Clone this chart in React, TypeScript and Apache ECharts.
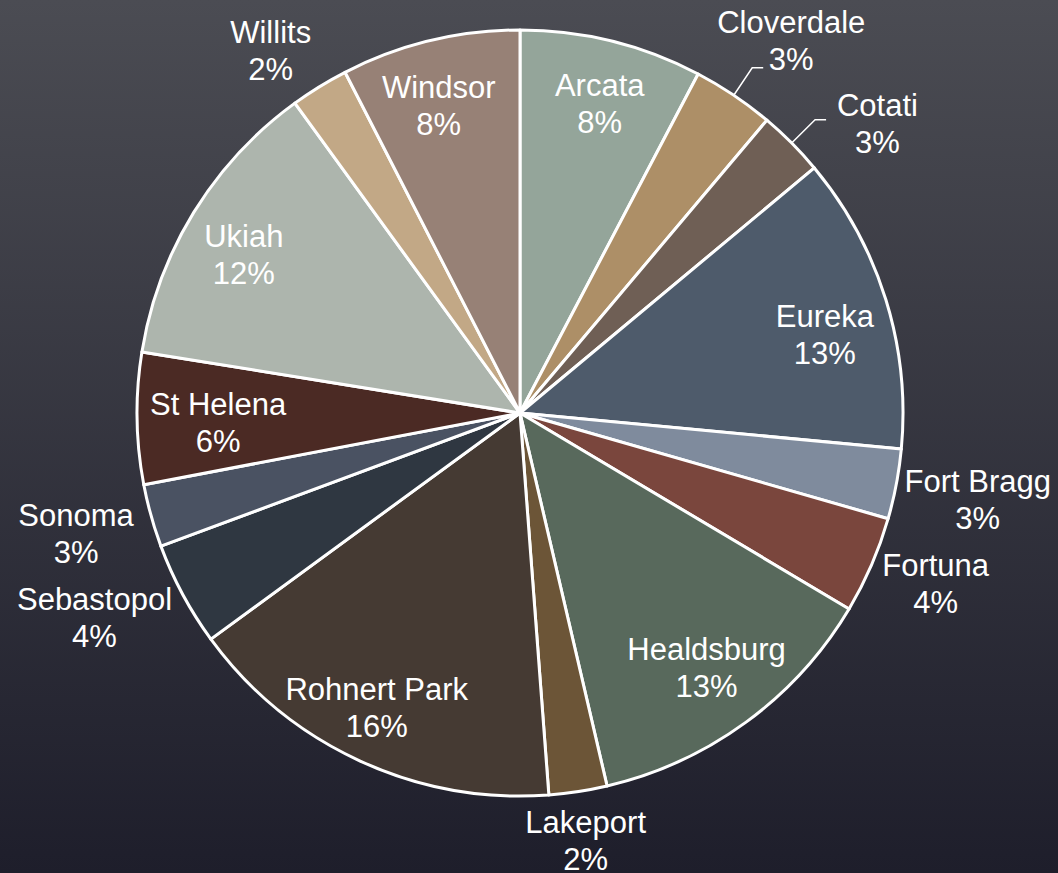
import React, { useEffect, useRef } from 'react';
import * as echarts from 'echarts';

// ---- data ----
const cities = [
  'Arcata', 'Cloverdale', 'Cotati', 'Eureka', 'Fort Bragg', 'Fortuna', 'Healdsburg',
  'Lakeport', 'Rohnert Park', 'Sebastopol', 'Sonoma', 'St Helena', 'Ukiah', 'Willits', 'Windsor',
];
const shares = [7.7, 3.45, 2.8, 12.55, 2.95, 4.1, 12.8, 2.45, 16.15, 4.4, 2.65, 5.55, 12.45, 2.45, 7.55];

// ---- styles ----
const sliceColors = [
  '#94a59a', '#ad8f67', '#6f5f55', '#4e5b6b', '#7f8b9d', '#7a463d', '#58695c',
  '#6c5537', '#453a33', '#2f3741', '#4a5262', '#4b2a24', '#adb5ad', '#c2a886', '#978176',
];
const leaderLineCities = ['Cloverdale', 'Cotati'];
const labelNudges: Record<string, [number, number]> = {
  Willits: [-19, 13],
  Cloverdale: [15, 9],
  Cotati: [44, 22],
  Eureka: [3, 15],
  Fortuna: [2, -8],
  'Rohnert Park': [-11, 8],
  Sebastopol: [-9, -19],
  Sonoma: [-8, 0],
  'St Helena': [14, 6],
  Ukiah: [-7, 8],
  Windsor: [-7, 0],
  Arcata: [4, -2],
};
const INSIDE_MIN_PCT = 5;

export default function App() {
  const ref = useRef<HTMLDivElement>(null);

  useEffect(() => {
    document.body.style.margin = '0';
    const chart = echarts.init(ref.current!, null, { renderer: 'svg' });
    const total = shares.reduce((a, b) => a + b, 0);
    const cx = 520;
    const cy = 413;
    const R = 383;
    const mids: number[] = [];
    let acc = 0;
    shares.forEach((v) => {
      mids.push(acc + v / 2);
      acc += v;
    });
    const pctOf = (v: number) => (v / total) * 100;
    const isInside = (i: number) => pctOf(shares[i]) >= INSIDE_MIN_PCT;

    const data = cities.map((name, i) => ({
      name,
      value: shares[i],
      itemStyle: { color: sliceColors[i] },
      label: { position: isInside(i) ? 'inside' : 'outside' },
      labelLine: { show: leaderLineCities.includes(name) },
    }));

    chart.setOption({
      animation: false,
      backgroundColor: new echarts.graphic.LinearGradient(0, 0, 0, 1, [
        { offset: 0, color: '#4b4c53' },
        { offset: 1, color: '#1e1e2b' },
      ]),
      series: [
        {
          type: 'pie',
          center: [cx, cy],
          radius: R,
          startAngle: 90,
          clockwise: true,
          avoidLabelOverlap: false,
          emphasis: { disabled: true },
          itemStyle: { borderColor: '#ffffff', borderWidth: 3 },
          label: {
            color: '#ffffff',
            fontSize: 31,
            lineHeight: 37,
            fontFamily: "'Liberation Sans', Arial, sans-serif",
            textBorderWidth: 0,
            bleedMargin: 0,
            formatter: (p: any) => `${p.name}\n${Math.round(pctOf(p.value))}%`,
          },
          labelLine: {
            length: 0,
            length2: 0,
            lineStyle: { color: '#ffffff', width: 1.5 },
          },
          labelLayout: (p: any) => {
            const i = p.dataIndex;
            const theta = (mids[i] / total) * 2 * Math.PI;
            const dx = Math.sin(theta);
            const dy = -Math.cos(theta);
            const w = p.labelRect.width;
            const h = p.labelRect.height;
            const dist = isInside(i)
              ? 0.825 * R
              : R + (Math.abs(dx) * w) / 2 + (Math.abs(dy) * h) / 2 + 4;
            const nudge = labelNudges[cities[i]] || [0, 0];
            const out: any = {
              x: cx + dx * dist + nudge[0],
              y: cy + dy * dist + nudge[1],
              align: 'center',
              verticalAlign: 'middle',
            };
            if (leaderLineCities.includes(cities[i])) {
              const x0 = cx + dx * R;
              const y0 = cy + dy * R;
              const x1 = x0 + dx * 33;
              const y1 = y0 + dy * 33;
              out.labelLinePoints = [
                [x0, y0],
                [x1, y1],
                [x1 + (dx >= 0 ? 11 : -11), y1],
              ];
            }
            return out;
          },
          data,
        },
      ],
    });

    return () => chart.dispose();
  }, []);

  return <div ref={ref} style={{ width: 1058, height: 873 }} />;
}
